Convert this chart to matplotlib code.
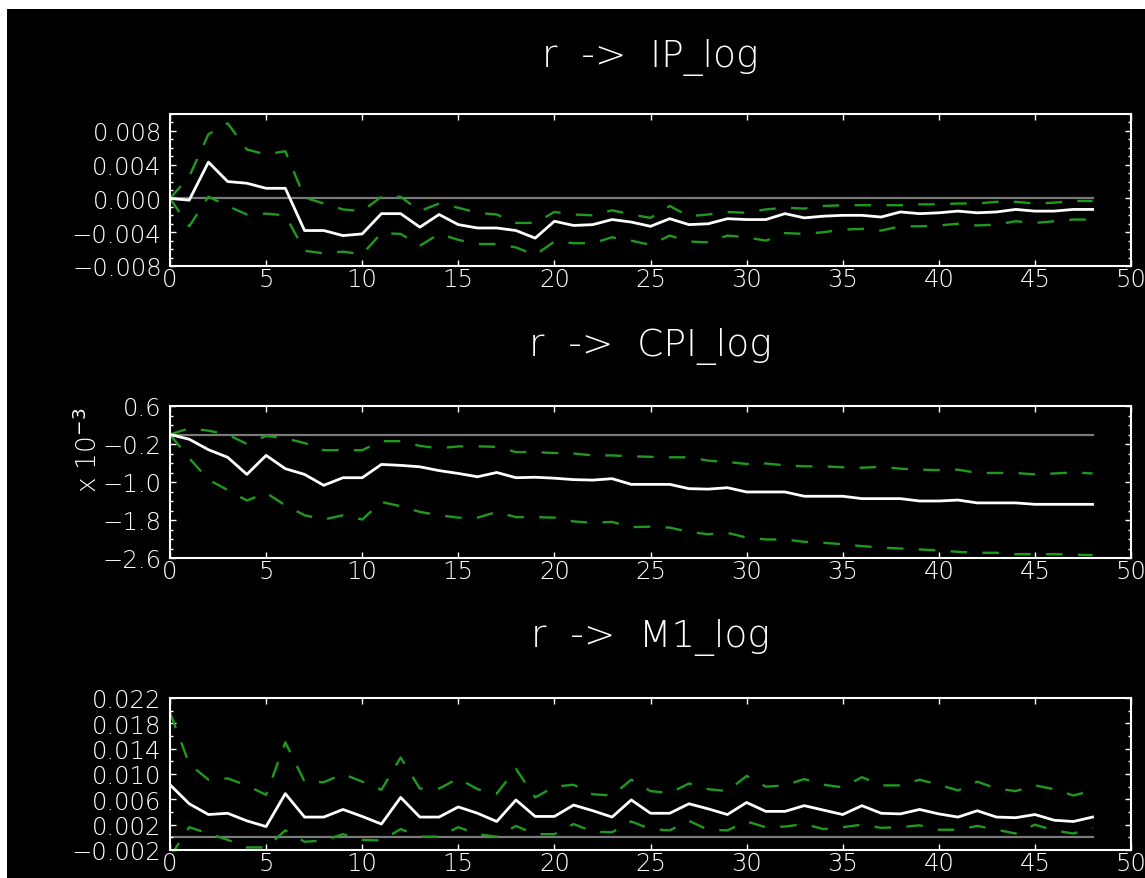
import matplotlib
matplotlib.use("Agg")
import matplotlib.pyplot as plt
from matplotlib.patches import Rectangle
from matplotlib.ticker import MultipleLocator, FixedLocator, FuncFormatter
import numpy as np

# ---------------- data ----------------
horizon = list(range(49))

ip_irf = [0, -0.0002, 0.0043, 0.0020, 0.0018, 0.0012, 0.0012, -0.0038, -0.0038, -0.0044,
          -0.0042, -0.0018, -0.0018, -0.0034, -0.0019, -0.0031, -0.0035, -0.0035, -0.0038, -0.0047,
          -0.0027, -0.0032, -0.0031, -0.0025, -0.0028, -0.0033, -0.0024, -0.0031, -0.0030, -0.0024,
          -0.0025, -0.0025, -0.0018, -0.0023, -0.0021, -0.0020, -0.0020, -0.0022, -0.0016, -0.0018,
          -0.0017, -0.0015, -0.0017, -0.0016, -0.0013, -0.0015, -0.0015, -0.0013, -0.0013]
ip_up = [0, 0.0026, 0.0076, 0.0089, 0.0058, 0.0052, 0.0056, 0.0001, -0.0006, -0.0013,
         -0.0015, 0.0002, 0.0002, -0.0015, -0.0006, -0.0011, -0.0017, -0.0019, -0.0029, -0.0029,
         -0.0016, -0.0019, -0.0020, -0.0014, -0.0019, -0.0023, -0.0009, -0.0021, -0.0019, -0.0016,
         -0.0017, -0.0013, -0.0011, -0.0012, -0.0009, -0.0008, -0.0008, -0.0008, -0.0008, -0.0007,
         -0.0007, -0.0006, -0.0006, -0.0004, -0.0004, -0.0006, -0.0005, -0.0003, -0.0003]
ip_lo = [0, -0.0033, 0.0002, -0.0009, -0.0019, -0.0018, -0.0020, -0.0062, -0.0065, -0.0063,
         -0.0066, -0.0041, -0.0042, -0.0056, -0.0042, -0.0049, -0.0054, -0.0054, -0.0058, -0.0067,
         -0.0051, -0.0053, -0.0053, -0.0046, -0.0050, -0.0055, -0.0044, -0.0051, -0.0052, -0.0044,
         -0.0046, -0.0050, -0.0041, -0.0042, -0.0040, -0.0037, -0.0036, -0.0038, -0.0033, -0.0033,
         -0.0032, -0.0030, -0.0032, -0.0031, -0.0027, -0.0029, -0.0027, -0.0025, -0.0025]

# CPI values in units of 1e-3
cpi_irf = [0, -0.10, -0.32, -0.48, -0.84, -0.44, -0.72, -0.84, -1.07, -0.91,
           -0.91, -0.63, -0.65, -0.68, -0.76, -0.82, -0.89, -0.80, -0.91, -0.90,
           -0.92, -0.95, -0.96, -0.93, -1.05, -1.05, -1.05, -1.14, -1.15, -1.12,
           -1.21, -1.21, -1.21, -1.30, -1.30, -1.30, -1.35, -1.35, -1.35, -1.40,
           -1.40, -1.38, -1.44, -1.44, -1.44, -1.47, -1.47, -1.47, -1.47]
cpi_up = [0, 0.13, 0.08, 0.0, -0.20, -0.03, -0.08, -0.18, -0.33, -0.33,
          -0.33, -0.14, -0.14, -0.24, -0.29, -0.25, -0.25, -0.26, -0.37, -0.37,
          -0.39, -0.40, -0.44, -0.44, -0.46, -0.47, -0.48, -0.48, -0.55, -0.58,
          -0.62, -0.61, -0.65, -0.67, -0.67, -0.69, -0.70, -0.68, -0.72, -0.74,
          -0.75, -0.74, -0.81, -0.81, -0.81, -0.84, -0.82, -0.80, -0.82]
cpi_lo = [0, -0.50, -0.95, -1.17, -1.39, -1.23, -1.49, -1.70, -1.79, -1.70,
          -1.79, -1.42, -1.51, -1.63, -1.70, -1.75, -1.75, -1.63, -1.74, -1.74,
          -1.75, -1.83, -1.86, -1.84, -1.95, -1.94, -1.96, -2.05, -2.10, -2.07,
          -2.17, -2.21, -2.21, -2.26, -2.28, -2.31, -2.35, -2.38, -2.40, -2.42,
          -2.44, -2.47, -2.49, -2.49, -2.52, -2.52, -2.52, -2.53, -2.54]

m1_irf = [0.0083, 0.0053, 0.0036, 0.0038, 0.0026, 0.0017, 0.0069, 0.0032, 0.0032, 0.0044,
          0.0033, 0.0021, 0.0063, 0.0032, 0.0032, 0.0048, 0.0038, 0.0025, 0.0059, 0.0033,
          0.0033, 0.0051, 0.0042, 0.0032, 0.0059, 0.0038, 0.0038, 0.0053, 0.0045, 0.0036,
          0.0055, 0.0041, 0.0041, 0.0050, 0.0043, 0.0036, 0.0050, 0.0038, 0.0037, 0.0044,
          0.0037, 0.0032, 0.0042, 0.0032, 0.0031, 0.0036, 0.0027, 0.0025, 0.0032]
m1_up = [0.0197, 0.0116, 0.0091, 0.0093, 0.0082, 0.0067, 0.0150, 0.0088, 0.0087, 0.0100,
         0.0088, 0.0075, 0.0126, 0.0077, 0.0077, 0.0093, 0.0076, 0.0069, 0.0108, 0.0063,
         0.0080, 0.0083, 0.0068, 0.0066, 0.0091, 0.0073, 0.0070, 0.0085, 0.0076, 0.0073,
         0.0097, 0.0080, 0.0082, 0.0092, 0.0083, 0.0079, 0.0095, 0.0082, 0.0082, 0.0091,
         0.0083, 0.0074, 0.0088, 0.0077, 0.0073, 0.0082, 0.0076, 0.0066, 0.0074]
m1_lo = [-0.0031, 0.0016, 0.0006, -0.0004, -0.0016, -0.0016, 0.0011, -0.0007, -0.0005, 0.0005,
         -0.0004, -0.0005, 0.0013, 0.0001, 0.0001, 0.0016, 0.0005, 0.0001, 0.0018, 0.0005,
         0.0005, 0.0021, 0.0009, 0.0008, 0.0025, 0.0013, 0.0011, 0.0026, 0.0012, 0.0011,
         0.0025, 0.0016, 0.0017, 0.0021, 0.0013, 0.0016, 0.0020, 0.0015, 0.0016, 0.0019,
         0.0012, 0.0012, 0.0018, 0.0012, 0.0006, 0.0020, 0.0011, 0.0006, 0.0015]

titles = ["r  ->  IP_log", "r  ->  CPI_log", "r  ->  M1_log"]
xticks = [0, 5, 10, 15, 20, 25, 30, 35, 40, 45, 50]
ip_yticks = [-0.008, -0.004, 0.0, 0.004, 0.008]
cpi_yticks = [-2.6, -1.8, -1.0, -0.2, 0.6]
m1_yticks = [-0.002, 0.002, 0.006, 0.010, 0.014, 0.018, 0.022]

# ---------------- figure ----------------
W, H = 1145, 879
fig = plt.figure(figsize=(W / 100, H / 100), dpi=100, facecolor="white")
fig.add_artist(Rectangle((7 / W, 0), 1 - 7 / W, 1 - 10 / H, transform=fig.transFigure,
                         facecolor="black", edgecolor="none", zorder=-10))

FONT = dict(family="DejaVu Sans", weight="light")
GREEN = "#1f9a1f"


def make_fmt(decimals):
    def f(v, pos):
        s = f"{v:.{decimals}f}"
        if s.startswith("-"):
            if float(s) == 0:
                s = s[1:]
            else:
                s = "\u2212" + s[1:]
        return s
    return FuncFormatter(f)


panels = [
    dict(irf=ip_irf, up=ip_up, lo=ip_lo, yticks=ip_yticks, ylim=(-0.008, 0.0100),
         minor=0.001, dec=3, top=115, title_y=57),
    dict(irf=cpi_irf, up=cpi_up, lo=cpi_lo, yticks=cpi_yticks, ylim=(-2.6, 0.6),
         minor=0.2, dec=1, top=407, title_y=347),
    dict(irf=m1_irf, up=m1_up, lo=m1_lo, yticks=m1_yticks, ylim=(-0.002, 0.022),
         minor=0.002, dec=3, top=699, title_y=638),
]

left_px, right_px, h_px = 170, 1131, 152
for p, title in zip(panels, titles):
    ax = fig.add_axes([left_px / W, 1 - (p["top"] + h_px) / H, (right_px - left_px) / W, h_px / H])
    ax.set_facecolor("black")
    x = np.array(horizon)
    ax.plot(x, np.zeros(len(x)), color="#7a7a7a", lw=1.6, zorder=1)
    ax.plot(x, p["up"], color=GREEN, lw=1.7, linestyle=(0, (7.0, 6.5)), zorder=2)
    ax.plot(x, p["lo"], color=GREEN, lw=1.7, linestyle=(0, (7.0, 6.5)), zorder=2)
    ax.plot(x, p["irf"], color="white", lw=2.0, zorder=3)
    ax.set_xlim(0, 50)
    ax.set_ylim(*p["ylim"])
    ax.xaxis.set_major_locator(FixedLocator(xticks))
    ax.yaxis.set_major_locator(FixedLocator(p["yticks"]))
    ax.yaxis.set_minor_locator(MultipleLocator(p["minor"]))
    ax.yaxis.set_major_formatter(make_fmt(p["dec"]))
    for s in ax.spines.values():
        s.set_color("white")
        s.set_linewidth(1.5)
    ax.tick_params(axis="both", which="both", direction="in", colors="white",
                   top=True, right=True, width=1.0)
    ax.tick_params(axis="both", which="major", length=4, labelsize=17.5)
    ax.tick_params(axis="y", which="major", pad=6)
    ax.tick_params(axis="x", which="major", pad=1)
    ax.tick_params(axis="y", which="minor", length=2.5)
    for lab in ax.get_xticklabels() + ax.get_yticklabels():
        lab.set_fontfamily(FONT["family"])
        lab.set_fontweight(FONT["weight"])
    fig.text((left_px + right_px) / 2 / W, 1 - p["title_y"] / H, title, color="white",
             fontsize=27, ha="center", va="center", **FONT)

fig.text(88 / W, 1 - 450 / H, r"x 10$^{-3}$", color="white", fontsize=19,
         rotation=90, ha="center", va="center", **FONT)

fig.savefig("out.png", dpi=100, facecolor=fig.get_facecolor())
